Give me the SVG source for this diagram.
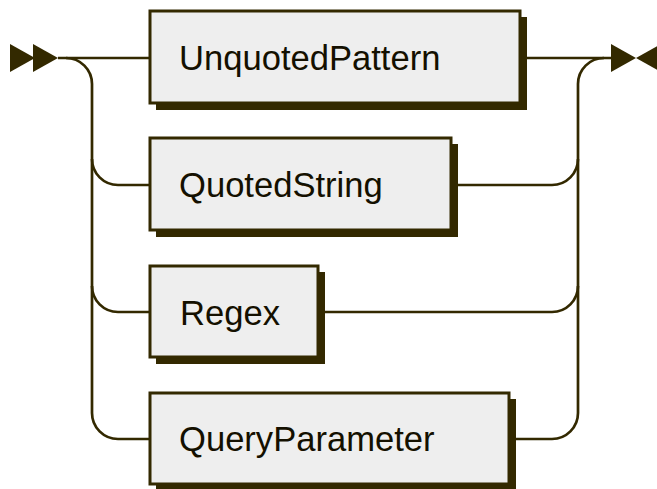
<svg xmlns="http://www.w3.org/2000/svg" width="657" height="489" viewBox="0 0 657 489">
  <style>
    .line { fill: none; stroke: #332900; stroke-width: 2.7; }
    .box { fill: #eeeeee; stroke: #332900; stroke-width: 3; }
    .shadow { fill: #332900; }
    .marker { fill: #332900; }
    .label { font-family: "Liberation Sans", Arial, sans-serif; font-size: 34.6px; fill: #141000; }
  </style>
  <rect width="657" height="489" fill="#ffffff"/>

  <g id="connectors">
    <!-- start and end markers -->
    <polygon class="marker" points="10,44 35,58 10,72"/>
    <polygon class="marker" points="33,44 58,58 33,72"/>
    <polygon class="marker" points="611,44 636,58 611,72"/>
    <polygon class="marker" points="661,44 636,58 661,72"/>

    <!-- main path through the first choice -->
    <path class="line" d="M58,58 H150"/>
    <path class="line" d="M520,58 H611"/>

    <!-- left branching -->
    <path class="line" d="M66,58 A26,26 0 0 1 92,84 V413 A26,26 0 0 0 118,439 H150"/>
    <path class="line" d="M92,159 A26,26 0 0 0 118,185 H150"/>
    <path class="line" d="M92,286 A26,26 0 0 0 118,312 H150"/>

    <!-- right joining -->
    <path class="line" d="M604,58 A26,26 0 0 0 578,84 V413 A26,26 0 0 1 552,439 H509"/>
    <path class="line" d="M451,185 H552 A26,26 0 0 0 578,159"/>
    <path class="line" d="M318,312 H552 A26,26 0 0 0 578,286"/>
  </g>

  <g id="UnquotedPattern">
    <rect class="shadow" x="156" y="17" width="371" height="93"/>
    <rect class="box" x="150" y="11" width="370" height="92"/>
    <text class="label" x="179" y="70">UnquotedPattern</text>
  </g>

  <g id="QuotedString">
    <rect class="shadow" x="156" y="144" width="302" height="93"/>
    <rect class="box" x="150" y="138" width="301" height="92"/>
    <text class="label" x="179" y="197">QuotedString</text>
  </g>

  <g id="Regex">
    <rect class="shadow" x="156" y="272" width="169" height="92"/>
    <rect class="box" x="150" y="266" width="168" height="91"/>
    <text class="label" x="180" y="325">Regex</text>
  </g>

  <g id="QueryParameter">
    <rect class="shadow" x="156" y="399" width="360" height="92"/>
    <rect class="box" x="150" y="393" width="359" height="91"/>
    <text class="label" x="179" y="451">QueryParameter</text>
  </g>
</svg>
